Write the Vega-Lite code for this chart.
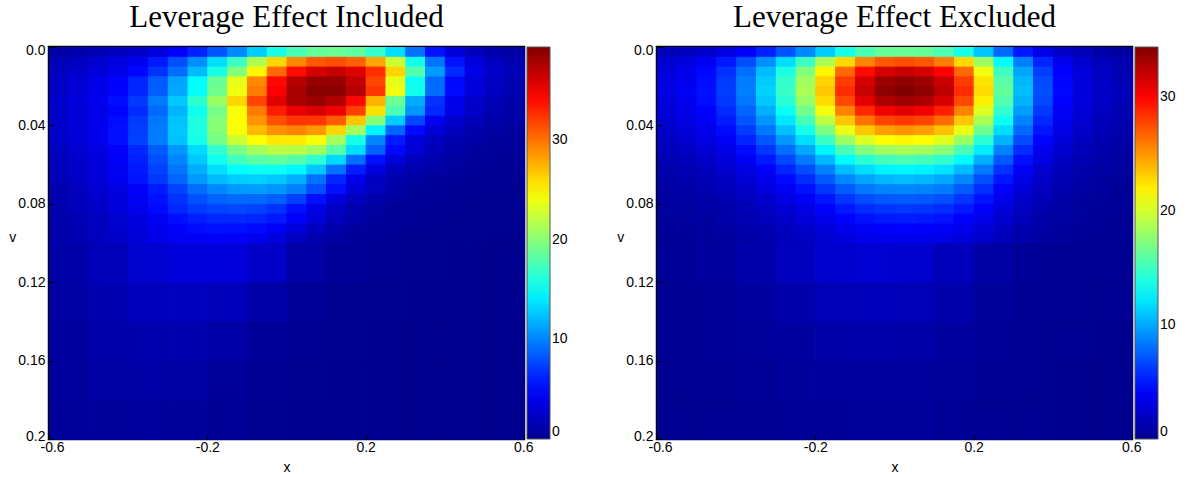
{
"$schema":"https://vega.github.io/schema/vega-lite/v6.json",
"background":"white",
"padding":{"left":7,"top":0,"right":5,"bottom":5},
"spacing":45,
"config":{
 "font":"Liberation Sans",
 "view":{"stroke":"black","strokeWidth":2.5},
 "axis":{"labelFont":"Liberation Sans","labelFontSize":14,"labelColor":"black","titleFont":"Liberation Sans","titleFontSize":14,"titleFontWeight":"normal","titleColor":"black","grid":false,"domain":false,"tickColor":"black","tickSize":-5,"tickWidth":1},
 "legend":{"gradientStrokeColor":"#555","gradientStrokeWidth":1,"labelFont":"Liberation Sans","labelFontSize":14,"labelColor":"black","padding":0,"labelBaseline":"middle","labelOffset":5,"offset":3,"gradientLength":392,"gradientThickness":23},
 "title":{"font":"Liberation Serif","fontSize":31,"fontWeight":"normal","color":"black","offset":9,"anchor":"middle","frame":"group"}
},
"resolve":{"scale":{"color":"independent","stroke":"independent"},"legend":{"color":"independent","stroke":"independent"}},
"datasets":{
"i1":[
{"x":-0.6,"v":0,"z":1.0},{"x":-0.55,"v":0,"z":1.3},{"x":-0.5,"v":0,"z":1.7},{"x":-0.45,"v":0,"z":2.1},{"x":-0.4,"v":0,"z":2.6},{"x":-0.35,"v":0,"z":3.5},{"x":-0.3,"v":0,"z":4.7},{"x":-0.25,"v":0,"z":6.2},{"x":-0.2,"v":0,"z":8.1},{"x":-0.15,"v":0,"z":10.2},{"x":-0.1,"v":0,"z":12.8},{"x":-0.05,"v":0,"z":15.7},{"x":0,"v":0,"z":17.5},{"x":0.05,"v":0,"z":18.6},{"x":0.1,"v":0,"z":18.9},{"x":0.15,"v":0,"z":18.4},{"x":0.2,"v":0,"z":16.8},{"x":0.25,"v":0,"z":13.5},{"x":0.3,"v":0,"z":9.3},{"x":0.35,"v":0,"z":5.6},{"x":0.4,"v":0,"z":3.4},{"x":0.45,"v":0,"z":2.0},{"x":0.5,"v":0,"z":1.3},{"x":0.55,"v":0,"z":0.9},
{"x":-0.6,"v":0.005,"z":1.7},{"x":-0.55,"v":0.005,"z":2.2},{"x":-0.5,"v":0.005,"z":2.8},{"x":-0.45,"v":0.005,"z":3.5},{"x":-0.4,"v":0.005,"z":4.4},{"x":-0.35,"v":0.005,"z":5.8},{"x":-0.3,"v":0.005,"z":7.9},{"x":-0.25,"v":0.005,"z":10.4},{"x":-0.2,"v":0.005,"z":13.5},{"x":-0.15,"v":0.005,"z":17.0},{"x":-0.1,"v":0.005,"z":21.4},{"x":-0.05,"v":0.005,"z":26.1},{"x":0,"v":0.005,"z":29.2},{"x":0.05,"v":0.005,"z":31.0},{"x":0.1,"v":0.005,"z":31.4},{"x":0.15,"v":0.005,"z":30.7},{"x":0.2,"v":0.005,"z":28.0},{"x":0.25,"v":0.005,"z":22.6},{"x":0.3,"v":0.005,"z":15.5},{"x":0.35,"v":0.005,"z":9.4},{"x":0.4,"v":0.005,"z":5.6},{"x":0.45,"v":0.005,"z":3.4},{"x":0.5,"v":0.005,"z":2.1},{"x":0.55,"v":0.005,"z":1.4},
{"x":-0.6,"v":0.01,"z":2.0},{"x":-0.55,"v":0.01,"z":2.6},{"x":-0.5,"v":0.01,"z":3.3},{"x":-0.45,"v":0.01,"z":4.0},{"x":-0.4,"v":0.01,"z":5.1},{"x":-0.35,"v":0.01,"z":6.8},{"x":-0.3,"v":0.01,"z":9.1},{"x":-0.25,"v":0.01,"z":12.1},{"x":-0.2,"v":0.01,"z":15.7},{"x":-0.15,"v":0.01,"z":19.7},{"x":-0.1,"v":0.01,"z":24.9},{"x":-0.05,"v":0.01,"z":30.3},{"x":0,"v":0.01,"z":34.0},{"x":0.05,"v":0.01,"z":36.0},{"x":0.1,"v":0.01,"z":36.6},{"x":0.15,"v":0.01,"z":35.6},{"x":0.2,"v":0.01,"z":32.6},{"x":0.25,"v":0.01,"z":26.2},{"x":0.3,"v":0.01,"z":18.0},{"x":0.35,"v":0.01,"z":10.9},{"x":0.4,"v":0.01,"z":6.5},{"x":0.45,"v":0.01,"z":3.9},{"x":0.5,"v":0.01,"z":2.5},{"x":0.55,"v":0.01,"z":1.7},
{"x":-0.6,"v":0.015,"z":2.4},{"x":-0.55,"v":0.015,"z":3.1},{"x":-0.5,"v":0.015,"z":3.9},{"x":-0.45,"v":0.015,"z":4.8},{"x":-0.4,"v":0.015,"z":6.3},{"x":-0.35,"v":0.015,"z":8.4},{"x":-0.3,"v":0.015,"z":11.2},{"x":-0.25,"v":0.015,"z":14.7},{"x":-0.2,"v":0.015,"z":18.8},{"x":-0.15,"v":0.015,"z":23.6},{"x":-0.1,"v":0.015,"z":29.2},{"x":-0.05,"v":0.015,"z":34.1},{"x":0,"v":0.015,"z":37.2},{"x":0.05,"v":0.015,"z":38.4},{"x":0.1,"v":0.015,"z":38.4},{"x":0.15,"v":0.015,"z":36.7},{"x":0.2,"v":0.015,"z":31.8},{"x":0.25,"v":0.015,"z":23.6},{"x":0.3,"v":0.015,"z":15.2},{"x":0.35,"v":0.015,"z":9.0},{"x":0.4,"v":0.015,"z":5.2},{"x":0.45,"v":0.015,"z":3.3},{"x":0.5,"v":0.015,"z":2.2},{"x":0.55,"v":0.015,"z":1.5},
{"x":-0.6,"v":0.02,"z":2.4},{"x":-0.55,"v":0.02,"z":3.1},{"x":-0.5,"v":0.02,"z":3.9},{"x":-0.45,"v":0.02,"z":4.9},{"x":-0.4,"v":0.02,"z":6.4},{"x":-0.35,"v":0.02,"z":8.5},{"x":-0.3,"v":0.02,"z":11.4},{"x":-0.25,"v":0.02,"z":14.9},{"x":-0.2,"v":0.02,"z":19.1},{"x":-0.15,"v":0.02,"z":24.0},{"x":-0.1,"v":0.02,"z":29.7},{"x":-0.05,"v":0.02,"z":34.6},{"x":0,"v":0.02,"z":37.7},{"x":0.05,"v":0.02,"z":39.0},{"x":0.1,"v":0.02,"z":38.9},{"x":0.15,"v":0.02,"z":37.3},{"x":0.2,"v":0.02,"z":32.3},{"x":0.25,"v":0.02,"z":23.9},{"x":0.3,"v":0.02,"z":15.4},{"x":0.35,"v":0.02,"z":9.1},{"x":0.4,"v":0.02,"z":5.3},{"x":0.45,"v":0.02,"z":3.3},{"x":0.5,"v":0.02,"z":2.2},{"x":0.55,"v":0.02,"z":1.5},
{"x":-0.6,"v":0.025,"z":2.7},{"x":-0.55,"v":0.025,"z":3.4},{"x":-0.5,"v":0.025,"z":4.2},{"x":-0.45,"v":0.025,"z":5.4},{"x":-0.4,"v":0.025,"z":7.1},{"x":-0.35,"v":0.025,"z":9.6},{"x":-0.3,"v":0.025,"z":12.6},{"x":-0.25,"v":0.025,"z":16.5},{"x":-0.2,"v":0.025,"z":20.7},{"x":-0.15,"v":0.025,"z":26.1},{"x":-0.1,"v":0.025,"z":31.8},{"x":-0.05,"v":0.025,"z":35.6},{"x":0,"v":0.025,"z":37.7},{"x":0.05,"v":0.025,"z":38.3},{"x":0.1,"v":0.025,"z":37.4},{"x":0.15,"v":0.025,"z":34.2},{"x":0.2,"v":0.025,"z":27.5},{"x":0.25,"v":0.025,"z":18.9},{"x":0.3,"v":0.025,"z":11.5},{"x":0.35,"v":0.025,"z":6.8},{"x":0.4,"v":0.025,"z":4.1},{"x":0.45,"v":0.025,"z":2.6},{"x":0.5,"v":0.025,"z":1.8},{"x":0.55,"v":0.025,"z":1.2},
{"x":-0.6,"v":0.03,"z":2.5},{"x":-0.55,"v":0.03,"z":3.2},{"x":-0.5,"v":0.03,"z":3.9},{"x":-0.45,"v":0.03,"z":5.0},{"x":-0.4,"v":0.03,"z":6.6},{"x":-0.35,"v":0.03,"z":8.9},{"x":-0.3,"v":0.03,"z":11.8},{"x":-0.25,"v":0.03,"z":15.4},{"x":-0.2,"v":0.03,"z":19.3},{"x":-0.15,"v":0.03,"z":24.3},{"x":-0.1,"v":0.03,"z":29.7},{"x":-0.05,"v":0.03,"z":33.3},{"x":0,"v":0.03,"z":35.2},{"x":0.05,"v":0.03,"z":35.8},{"x":0.1,"v":0.03,"z":34.9},{"x":0.15,"v":0.03,"z":31.9},{"x":0.2,"v":0.03,"z":25.7},{"x":0.25,"v":0.03,"z":17.6},{"x":0.3,"v":0.03,"z":10.7},{"x":0.35,"v":0.03,"z":6.4},{"x":0.4,"v":0.03,"z":3.8},{"x":0.45,"v":0.03,"z":2.4},{"x":0.5,"v":0.03,"z":1.6},{"x":0.55,"v":0.03,"z":1.1},
{"x":-0.6,"v":0.035,"z":2.6},{"x":-0.55,"v":0.035,"z":3.3},{"x":-0.5,"v":0.035,"z":4.1},{"x":-0.45,"v":0.035,"z":5.3},{"x":-0.4,"v":0.035,"z":7.1},{"x":-0.35,"v":0.035,"z":9.5},{"x":-0.3,"v":0.035,"z":12.4},{"x":-0.25,"v":0.035,"z":15.8},{"x":-0.2,"v":0.035,"z":19.9},{"x":-0.15,"v":0.035,"z":24.6},{"x":-0.1,"v":0.035,"z":28.7},{"x":-0.05,"v":0.035,"z":31.3},{"x":0,"v":0.035,"z":32.4},{"x":0.05,"v":0.035,"z":32.3},{"x":0.1,"v":0.035,"z":30.9},{"x":0.15,"v":0.035,"z":26.8},{"x":0.2,"v":0.035,"z":19.9},{"x":0.25,"v":0.035,"z":12.8},{"x":0.3,"v":0.035,"z":7.6},{"x":0.35,"v":0.035,"z":4.4},{"x":0.4,"v":0.035,"z":2.7},{"x":0.45,"v":0.035,"z":1.8},{"x":0.5,"v":0.035,"z":1.2},{"x":0.55,"v":0.035,"z":0.9},
{"x":-0.6,"v":0.04,"z":2.6},{"x":-0.55,"v":0.04,"z":3.2},{"x":-0.5,"v":0.04,"z":4.1},{"x":-0.45,"v":0.04,"z":5.4},{"x":-0.4,"v":0.04,"z":7.3},{"x":-0.35,"v":0.04,"z":9.7},{"x":-0.3,"v":0.04,"z":12.6},{"x":-0.25,"v":0.04,"z":15.8},{"x":-0.2,"v":0.04,"z":19.9},{"x":-0.15,"v":0.04,"z":24.3},{"x":-0.1,"v":0.04,"z":27.2},{"x":-0.05,"v":0.04,"z":28.8},{"x":0,"v":0.04,"z":29.3},{"x":0.05,"v":0.04,"z":28.5},{"x":0.1,"v":0.04,"z":26.1},{"x":0.15,"v":0.04,"z":21.0},{"x":0.2,"v":0.04,"z":14.4},{"x":0.25,"v":0.04,"z":8.8},{"x":0.3,"v":0.04,"z":5.2},{"x":0.35,"v":0.04,"z":3.1},{"x":0.4,"v":0.04,"z":2.0},{"x":0.45,"v":0.04,"z":1.3},{"x":0.5,"v":0.04,"z":0.9},{"x":0.55,"v":0.04,"z":0.7},
{"x":-0.6,"v":0.045,"z":2.6},{"x":-0.55,"v":0.045,"z":3.2},{"x":-0.5,"v":0.045,"z":4.1},{"x":-0.45,"v":0.045,"z":5.5},{"x":-0.4,"v":0.045,"z":7.4},{"x":-0.35,"v":0.045,"z":9.7},{"x":-0.3,"v":0.045,"z":12.4},{"x":-0.25,"v":0.045,"z":15.6},{"x":-0.2,"v":0.045,"z":19.3},{"x":-0.15,"v":0.045,"z":22.5},{"x":-0.1,"v":0.045,"z":24.5},{"x":-0.05,"v":0.045,"z":25.4},{"x":0,"v":0.045,"z":25.3},{"x":0.05,"v":0.045,"z":24.2},{"x":0.1,"v":0.045,"z":21.0},{"x":0.15,"v":0.045,"z":15.6},{"x":0.2,"v":0.045,"z":10.0},{"x":0.25,"v":0.045,"z":5.9},{"x":0.3,"v":0.045,"z":3.4},{"x":0.35,"v":0.045,"z":2.1},{"x":0.4,"v":0.045,"z":1.4},{"x":0.45,"v":0.045,"z":1.0},{"x":0.5,"v":0.045,"z":0.7},{"x":0.55,"v":0.045,"z":0.5},
{"x":-0.6,"v":0.05,"z":2.2},{"x":-0.55,"v":0.05,"z":2.8},{"x":-0.5,"v":0.05,"z":3.6},{"x":-0.45,"v":0.05,"z":4.8},{"x":-0.4,"v":0.05,"z":6.4},{"x":-0.35,"v":0.05,"z":8.4},{"x":-0.3,"v":0.05,"z":10.7},{"x":-0.25,"v":0.05,"z":13.4},{"x":-0.2,"v":0.05,"z":16.6},{"x":-0.15,"v":0.05,"z":19.4},{"x":-0.1,"v":0.05,"z":21.1},{"x":-0.05,"v":0.05,"z":21.9},{"x":0,"v":0.05,"z":21.8},{"x":0.05,"v":0.05,"z":20.9},{"x":0.1,"v":0.05,"z":18.1},{"x":0.15,"v":0.05,"z":13.4},{"x":0.2,"v":0.05,"z":8.6},{"x":0.25,"v":0.05,"z":5.1},{"x":0.3,"v":0.05,"z":3.0},{"x":0.35,"v":0.05,"z":1.8},{"x":0.4,"v":0.05,"z":1.2},{"x":0.45,"v":0.05,"z":0.8},{"x":0.5,"v":0.05,"z":0.6},{"x":0.55,"v":0.05,"z":0.4},
{"x":-0.6,"v":0.055,"z":2.0},{"x":-0.55,"v":0.055,"z":2.6},{"x":-0.5,"v":0.055,"z":3.4},{"x":-0.45,"v":0.055,"z":4.6},{"x":-0.4,"v":0.055,"z":6.1},{"x":-0.35,"v":0.055,"z":7.9},{"x":-0.3,"v":0.055,"z":10.0},{"x":-0.25,"v":0.055,"z":12.6},{"x":-0.2,"v":0.055,"z":15.3},{"x":-0.15,"v":0.055,"z":17.2},{"x":-0.1,"v":0.055,"z":18.2},{"x":-0.05,"v":0.055,"z":18.5},{"x":0,"v":0.055,"z":18.0},{"x":0.05,"v":0.055,"z":16.5},{"x":0.1,"v":0.055,"z":13.3},{"x":0.15,"v":0.055,"z":9.1},{"x":0.2,"v":0.055,"z":5.5},{"x":0.25,"v":0.055,"z":3.3},{"x":0.3,"v":0.055,"z":2.0},{"x":0.35,"v":0.055,"z":1.3},{"x":0.4,"v":0.055,"z":0.8},{"x":0.45,"v":0.055,"z":0.6},{"x":0.5,"v":0.055,"z":0.4},{"x":0.55,"v":0.055,"z":0.3},
{"x":-0.6,"v":0.06,"z":1.9},{"x":-0.55,"v":0.06,"z":2.5},{"x":-0.5,"v":0.06,"z":3.3},{"x":-0.45,"v":0.06,"z":4.4},{"x":-0.4,"v":0.06,"z":5.8},{"x":-0.35,"v":0.06,"z":7.4},{"x":-0.3,"v":0.06,"z":9.4},{"x":-0.25,"v":0.06,"z":11.6},{"x":-0.2,"v":0.06,"z":13.5},{"x":-0.15,"v":0.06,"z":14.7},{"x":-0.1,"v":0.06,"z":15.2},{"x":-0.05,"v":0.06,"z":15.2},{"x":0,"v":0.06,"z":14.5},{"x":0.05,"v":0.06,"z":12.6},{"x":0.1,"v":0.06,"z":9.3},{"x":0.15,"v":0.06,"z":6.0},{"x":0.2,"v":0.06,"z":3.6},{"x":0.25,"v":0.06,"z":2.1},{"x":0.3,"v":0.06,"z":1.3},{"x":0.35,"v":0.06,"z":0.9},{"x":0.4,"v":0.06,"z":0.6},{"x":0.45,"v":0.06,"z":0.4},{"x":0.5,"v":0.06,"z":0.3},{"x":0.55,"v":0.06,"z":0.2},
{"x":-0.6,"v":0.065,"z":1.8},{"x":-0.55,"v":0.065,"z":2.4},{"x":-0.5,"v":0.065,"z":3.2},{"x":-0.45,"v":0.065,"z":4.3},{"x":-0.4,"v":0.065,"z":5.6},{"x":-0.35,"v":0.065,"z":7.0},{"x":-0.3,"v":0.065,"z":8.8},{"x":-0.25,"v":0.065,"z":10.8},{"x":-0.2,"v":0.065,"z":12.1},{"x":-0.15,"v":0.065,"z":12.8},{"x":-0.1,"v":0.065,"z":13.0},{"x":-0.05,"v":0.065,"z":12.6},{"x":0,"v":0.065,"z":11.6},{"x":0.05,"v":0.065,"z":9.3},{"x":0.1,"v":0.065,"z":6.4},{"x":0.15,"v":0.065,"z":3.9},{"x":0.2,"v":0.065,"z":2.3},{"x":0.25,"v":0.065,"z":1.4},{"x":0.3,"v":0.065,"z":0.9},{"x":0.35,"v":0.065,"z":0.6},{"x":0.4,"v":0.065,"z":0.4},{"x":0.45,"v":0.065,"z":0.3},{"x":0.5,"v":0.065,"z":0.2},{"x":0.55,"v":0.065,"z":0.2},
{"x":-0.6,"v":0.07,"z":1.5},{"x":-0.55,"v":0.07,"z":2.0},{"x":-0.5,"v":0.07,"z":2.8},{"x":-0.45,"v":0.07,"z":3.6},{"x":-0.4,"v":0.07,"z":4.7},{"x":-0.35,"v":0.07,"z":5.9},{"x":-0.3,"v":0.07,"z":7.5},{"x":-0.25,"v":0.07,"z":9.1},{"x":-0.2,"v":0.07,"z":10.2},{"x":-0.15,"v":0.07,"z":10.8},{"x":-0.1,"v":0.07,"z":11.0},{"x":-0.05,"v":0.07,"z":10.7},{"x":0,"v":0.07,"z":9.8},{"x":0.05,"v":0.07,"z":7.9},{"x":0.1,"v":0.07,"z":5.4},{"x":0.15,"v":0.07,"z":3.3},{"x":0.2,"v":0.07,"z":2.0},{"x":0.25,"v":0.07,"z":1.2},{"x":0.3,"v":0.07,"z":0.7},{"x":0.35,"v":0.07,"z":0.5},{"x":0.4,"v":0.07,"z":0.3},{"x":0.45,"v":0.07,"z":0.2},{"x":0.5,"v":0.07,"z":0.2},{"x":0.55,"v":0.07,"z":0.1},
{"x":-0.6,"v":0.075,"z":1.5},{"x":-0.55,"v":0.075,"z":2.0},{"x":-0.5,"v":0.075,"z":2.6},{"x":-0.45,"v":0.075,"z":3.4},{"x":-0.4,"v":0.075,"z":4.4},{"x":-0.35,"v":0.075,"z":5.5},{"x":-0.3,"v":0.075,"z":6.8},{"x":-0.25,"v":0.075,"z":8.0},{"x":-0.2,"v":0.075,"z":8.7},{"x":-0.15,"v":0.075,"z":9.0},{"x":-0.1,"v":0.075,"z":9.0},{"x":-0.05,"v":0.075,"z":8.6},{"x":0,"v":0.075,"z":7.4},{"x":0.05,"v":0.075,"z":5.5},{"x":0.1,"v":0.075,"z":3.5},{"x":0.15,"v":0.075,"z":2.1},{"x":0.2,"v":0.075,"z":1.2},{"x":0.25,"v":0.075,"z":0.8},{"x":0.3,"v":0.075,"z":0.5},{"x":0.35,"v":0.075,"z":0.3},{"x":0.4,"v":0.075,"z":0.2},{"x":0.45,"v":0.075,"z":0.2},{"x":0.5,"v":0.075,"z":0.1},{"x":0.55,"v":0.075,"z":0.1},
{"x":-0.6,"v":0.08,"z":1.4},{"x":-0.55,"v":0.08,"z":1.9},{"x":-0.5,"v":0.08,"z":2.5},{"x":-0.45,"v":0.08,"z":3.3},{"x":-0.4,"v":0.08,"z":4.1},{"x":-0.35,"v":0.08,"z":5.2},{"x":-0.3,"v":0.08,"z":6.4},{"x":-0.25,"v":0.08,"z":7.1},{"x":-0.2,"v":0.08,"z":7.5},{"x":-0.15,"v":0.08,"z":7.7},{"x":-0.1,"v":0.08,"z":7.5},{"x":-0.05,"v":0.08,"z":6.8},{"x":0,"v":0.08,"z":5.5},{"x":0.05,"v":0.08,"z":3.8},{"x":0.1,"v":0.08,"z":2.3},{"x":0.15,"v":0.08,"z":1.4},{"x":0.2,"v":0.08,"z":0.8},{"x":0.25,"v":0.08,"z":0.5},{"x":0.3,"v":0.08,"z":0.4},{"x":0.35,"v":0.08,"z":0.2},{"x":0.4,"v":0.08,"z":0.2},{"x":0.45,"v":0.08,"z":0.1},{"x":0.5,"v":0.08,"z":0.1},{"x":0.55,"v":0.08,"z":0.1},
{"x":-0.6,"v":0.085,"z":1.2},{"x":-0.55,"v":0.085,"z":1.6},{"x":-0.5,"v":0.085,"z":2.1},{"x":-0.45,"v":0.085,"z":2.8},{"x":-0.4,"v":0.085,"z":3.5},{"x":-0.35,"v":0.085,"z":4.4},{"x":-0.3,"v":0.085,"z":5.4},{"x":-0.25,"v":0.085,"z":6.0},{"x":-0.2,"v":0.085,"z":6.4},{"x":-0.15,"v":0.085,"z":6.5},{"x":-0.1,"v":0.085,"z":6.3},{"x":-0.05,"v":0.085,"z":5.8},{"x":0,"v":0.085,"z":4.7},{"x":0.05,"v":0.085,"z":3.2},{"x":0.1,"v":0.085,"z":1.9},{"x":0.15,"v":0.085,"z":1.2},{"x":0.2,"v":0.085,"z":0.7},{"x":0.25,"v":0.085,"z":0.4},{"x":0.3,"v":0.085,"z":0.3},{"x":0.35,"v":0.085,"z":0.2},{"x":0.4,"v":0.085,"z":0.1},{"x":0.45,"v":0.085,"z":0.1},{"x":0.5,"v":0.085,"z":0.1},{"x":0.55,"v":0.085,"z":0.1},
{"x":-0.6,"v":0.09,"z":1.2},{"x":-0.55,"v":0.09,"z":1.6},{"x":-0.5,"v":0.09,"z":2.1},{"x":-0.45,"v":0.09,"z":2.7},{"x":-0.4,"v":0.09,"z":3.4},{"x":-0.35,"v":0.09,"z":4.2},{"x":-0.3,"v":0.09,"z":4.8},{"x":-0.25,"v":0.09,"z":5.3},{"x":-0.2,"v":0.09,"z":5.5},{"x":-0.15,"v":0.09,"z":5.5},{"x":-0.1,"v":0.09,"z":5.2},{"x":-0.05,"v":0.09,"z":4.5},{"x":0,"v":0.09,"z":3.3},{"x":0.05,"v":0.09,"z":2.2},{"x":0.1,"v":0.09,"z":1.3},{"x":0.15,"v":0.09,"z":0.7},{"x":0.2,"v":0.09,"z":0.5},{"x":0.25,"v":0.09,"z":0.3},{"x":0.3,"v":0.09,"z":0.2},{"x":0.35,"v":0.09,"z":0.1},{"x":0.4,"v":0.09,"z":0.1},{"x":0.45,"v":0.09,"z":0.1},{"x":0.5,"v":0.09,"z":0.1},{"x":0.55,"v":0.09,"z":0.1},
{"x":-0.6,"v":0.095,"z":1.2},{"x":-0.55,"v":0.095,"z":1.6},{"x":-0.5,"v":0.095,"z":2.0},{"x":-0.45,"v":0.095,"z":2.5},{"x":-0.4,"v":0.095,"z":3.2},{"x":-0.35,"v":0.095,"z":3.9},{"x":-0.3,"v":0.095,"z":4.4},{"x":-0.25,"v":0.095,"z":4.6},{"x":-0.2,"v":0.095,"z":4.7},{"x":-0.15,"v":0.095,"z":4.6},{"x":-0.1,"v":0.095,"z":4.2},{"x":-0.05,"v":0.095,"z":3.4},{"x":0,"v":0.095,"z":2.3},{"x":0.05,"v":0.095,"z":1.4},{"x":0.1,"v":0.095,"z":0.8},{"x":0.15,"v":0.095,"z":0.5},{"x":0.2,"v":0.095,"z":0.3},{"x":0.25,"v":0.095,"z":0.2},{"x":0.3,"v":0.095,"z":0.1},{"x":0.35,"v":0.095,"z":0.1},{"x":0.4,"v":0.095,"z":0.1},{"x":0.45,"v":0.095,"z":0.1},{"x":0.5,"v":0.095,"z":0.0},{"x":0.55,"v":0.095,"z":0.0}
],
"i2":[
{"x":-0.6,"v":0.1,"z":1.1},{"x":-0.5,"v":0.1,"z":1.8},{"x":-0.4,"v":0.1,"z":2.8},{"x":-0.3,"v":0.1,"z":3.3},{"x":-0.2,"v":0.1,"z":3.3},{"x":-0.1,"v":0.1,"z":2.4},{"x":0,"v":0.1,"z":1.0},{"x":0.1,"v":0.1,"z":0.4},{"x":0.2,"v":0.1,"z":0.2},{"x":0.3,"v":0.1,"z":0.1},{"x":0.4,"v":0.1,"z":0.0},{"x":0.5,"v":0.1,"z":0.0},
{"x":-0.6,"v":0.12,"z":0.9},{"x":-0.5,"v":0.12,"z":1.5},{"x":-0.4,"v":0.12,"z":2.0},{"x":-0.3,"v":0.12,"z":2.2},{"x":-0.2,"v":0.12,"z":1.9},{"x":-0.1,"v":0.12,"z":1.1},{"x":0,"v":0.12,"z":0.4},{"x":0.1,"v":0.12,"z":0.1},{"x":0.2,"v":0.12,"z":0.1},{"x":0.3,"v":0.12,"z":0.0},{"x":0.4,"v":0.12,"z":0.0},{"x":0.5,"v":0.12,"z":0.0},
{"x":-0.6,"v":0.14,"z":0.8},{"x":-0.5,"v":0.14,"z":1.2},{"x":-0.4,"v":0.14,"z":1.4},{"x":-0.3,"v":0.14,"z":1.4},{"x":-0.2,"v":0.14,"z":1.0},{"x":-0.1,"v":0.14,"z":0.4},{"x":0,"v":0.14,"z":0.2},{"x":0.1,"v":0.14,"z":0.1},{"x":0.2,"v":0.14,"z":0.0},{"x":0.3,"v":0.14,"z":0.0},{"x":0.4,"v":0.14,"z":0.0},{"x":0.5,"v":0.14,"z":0.0},
{"x":-0.6,"v":0.16,"z":0.7},{"x":-0.5,"v":0.16,"z":0.9},{"x":-0.4,"v":0.16,"z":1.0},{"x":-0.3,"v":0.16,"z":0.9},{"x":-0.2,"v":0.16,"z":0.5},{"x":-0.1,"v":0.16,"z":0.2},{"x":0,"v":0.16,"z":0.1},{"x":0.1,"v":0.16,"z":0.0},{"x":0.2,"v":0.16,"z":0.0},{"x":0.3,"v":0.16,"z":0.0},{"x":0.4,"v":0.16,"z":0.0},{"x":0.5,"v":0.16,"z":0.0},
{"x":-0.6,"v":0.18,"z":0.5},{"x":-0.5,"v":0.18,"z":0.6},{"x":-0.4,"v":0.18,"z":0.7},{"x":-0.3,"v":0.18,"z":0.6},{"x":-0.2,"v":0.18,"z":0.3},{"x":-0.1,"v":0.18,"z":0.1},{"x":0,"v":0.18,"z":0.0},{"x":0.1,"v":0.18,"z":0.0},{"x":0.2,"v":0.18,"z":0.0},{"x":0.3,"v":0.18,"z":0.0},{"x":0.4,"v":0.18,"z":0.0},{"x":0.5,"v":0.18,"z":0.0}
],
"e1":[
{"x":-0.6,"v":0,"z":1.5},{"x":-0.55,"v":0,"z":1.8},{"x":-0.5,"v":0,"z":2.3},{"x":-0.45,"v":0,"z":3.1},{"x":-0.4,"v":0,"z":4.1},{"x":-0.35,"v":0,"z":5.4},{"x":-0.3,"v":0,"z":7.1},{"x":-0.25,"v":0,"z":8.9},{"x":-0.2,"v":0,"z":11.2},{"x":-0.15,"v":0,"z":13.7},{"x":-0.1,"v":0,"z":15.4},{"x":-0.05,"v":0,"z":16.3},{"x":0,"v":0,"z":16.5},{"x":0.05,"v":0,"z":16.3},{"x":0.1,"v":0,"z":15.5},{"x":0.15,"v":0,"z":13.7},{"x":0.2,"v":0,"z":10.9},{"x":0.25,"v":0,"z":7.8},{"x":0.3,"v":0,"z":5.1},{"x":0.35,"v":0,"z":3.3},{"x":0.4,"v":0,"z":2.1},{"x":0.45,"v":0,"z":1.5},{"x":0.5,"v":0,"z":1.0},{"x":0.55,"v":0,"z":0.7},
{"x":-0.6,"v":0.005,"z":2.5},{"x":-0.55,"v":0.005,"z":3.0},{"x":-0.5,"v":0.005,"z":3.9},{"x":-0.45,"v":0.005,"z":5.1},{"x":-0.4,"v":0.005,"z":6.9},{"x":-0.35,"v":0.005,"z":9.1},{"x":-0.3,"v":0.005,"z":11.8},{"x":-0.25,"v":0.005,"z":14.9},{"x":-0.2,"v":0.005,"z":18.7},{"x":-0.15,"v":0.005,"z":22.8},{"x":-0.1,"v":0.005,"z":25.6},{"x":-0.05,"v":0.005,"z":27.1},{"x":0,"v":0.005,"z":27.5},{"x":0.05,"v":0.005,"z":27.1},{"x":0.1,"v":0.005,"z":25.9},{"x":0.15,"v":0.005,"z":22.8},{"x":0.2,"v":0.005,"z":18.2},{"x":0.25,"v":0.005,"z":12.9},{"x":0.3,"v":0.005,"z":8.5},{"x":0.35,"v":0.005,"z":5.5},{"x":0.4,"v":0.005,"z":3.6},{"x":0.45,"v":0.005,"z":2.4},{"x":0.5,"v":0.005,"z":1.7},{"x":0.55,"v":0.005,"z":1.2},
{"x":-0.6,"v":0.01,"z":2.9},{"x":-0.55,"v":0.01,"z":3.5},{"x":-0.5,"v":0.01,"z":4.5},{"x":-0.45,"v":0.01,"z":5.9},{"x":-0.4,"v":0.01,"z":8.0},{"x":-0.35,"v":0.01,"z":10.6},{"x":-0.3,"v":0.01,"z":13.8},{"x":-0.25,"v":0.01,"z":17.3},{"x":-0.2,"v":0.01,"z":21.8},{"x":-0.15,"v":0.01,"z":26.6},{"x":-0.1,"v":0.01,"z":29.8},{"x":-0.05,"v":0.01,"z":31.5},{"x":0,"v":0.01,"z":32.0},{"x":0.05,"v":0.01,"z":31.5},{"x":0.1,"v":0.01,"z":30.1},{"x":0.15,"v":0.01,"z":26.6},{"x":0.2,"v":0.01,"z":21.1},{"x":0.25,"v":0.01,"z":15.0},{"x":0.3,"v":0.01,"z":9.9},{"x":0.35,"v":0.01,"z":6.4},{"x":0.4,"v":0.01,"z":4.2},{"x":0.45,"v":0.01,"z":2.8},{"x":0.5,"v":0.01,"z":2.0},{"x":0.55,"v":0.01,"z":1.4},
{"x":-0.6,"v":0.015,"z":3.1},{"x":-0.55,"v":0.015,"z":3.7},{"x":-0.5,"v":0.015,"z":4.7},{"x":-0.45,"v":0.015,"z":6.3},{"x":-0.4,"v":0.015,"z":8.5},{"x":-0.35,"v":0.015,"z":11.2},{"x":-0.3,"v":0.015,"z":14.6},{"x":-0.25,"v":0.015,"z":18.3},{"x":-0.2,"v":0.015,"z":23.0},{"x":-0.15,"v":0.015,"z":28.1},{"x":-0.1,"v":0.015,"z":31.5},{"x":-0.05,"v":0.015,"z":33.4},{"x":0,"v":0.015,"z":33.9},{"x":0.05,"v":0.015,"z":33.4},{"x":0.1,"v":0.015,"z":31.9},{"x":0.15,"v":0.015,"z":28.1},{"x":0.2,"v":0.015,"z":22.4},{"x":0.25,"v":0.015,"z":15.9},{"x":0.3,"v":0.015,"z":10.5},{"x":0.35,"v":0.015,"z":6.8},{"x":0.4,"v":0.015,"z":4.4},{"x":0.45,"v":0.015,"z":3.0},{"x":0.5,"v":0.015,"z":2.1},{"x":0.55,"v":0.015,"z":1.5},
{"x":-0.6,"v":0.02,"z":3.1},{"x":-0.55,"v":0.02,"z":3.8},{"x":-0.5,"v":0.02,"z":4.8},{"x":-0.45,"v":0.02,"z":6.4},{"x":-0.4,"v":0.02,"z":8.6},{"x":-0.35,"v":0.02,"z":11.4},{"x":-0.3,"v":0.02,"z":14.8},{"x":-0.25,"v":0.02,"z":18.6},{"x":-0.2,"v":0.02,"z":23.4},{"x":-0.15,"v":0.02,"z":28.6},{"x":-0.1,"v":0.02,"z":32.0},{"x":-0.05,"v":0.02,"z":33.9},{"x":0,"v":0.02,"z":34.4},{"x":0.05,"v":0.02,"z":33.9},{"x":0.1,"v":0.02,"z":32.3},{"x":0.15,"v":0.02,"z":28.6},{"x":0.2,"v":0.02,"z":22.7},{"x":0.25,"v":0.02,"z":16.2},{"x":0.3,"v":0.02,"z":10.7},{"x":0.35,"v":0.02,"z":6.9},{"x":0.4,"v":0.02,"z":4.5},{"x":0.45,"v":0.02,"z":3.0},{"x":0.5,"v":0.02,"z":2.1},{"x":0.55,"v":0.02,"z":1.6},
{"x":-0.6,"v":0.025,"z":3.0},{"x":-0.55,"v":0.025,"z":3.7},{"x":-0.5,"v":0.025,"z":4.7},{"x":-0.45,"v":0.025,"z":6.2},{"x":-0.4,"v":0.025,"z":8.3},{"x":-0.35,"v":0.025,"z":11.0},{"x":-0.3,"v":0.025,"z":14.3},{"x":-0.25,"v":0.025,"z":18.0},{"x":-0.2,"v":0.025,"z":22.7},{"x":-0.15,"v":0.025,"z":27.7},{"x":-0.1,"v":0.025,"z":31.0},{"x":-0.05,"v":0.025,"z":32.9},{"x":0,"v":0.025,"z":33.4},{"x":0.05,"v":0.025,"z":32.9},{"x":0.1,"v":0.025,"z":31.4},{"x":0.15,"v":0.025,"z":27.7},{"x":0.2,"v":0.025,"z":22.0},{"x":0.25,"v":0.025,"z":15.7},{"x":0.3,"v":0.025,"z":10.3},{"x":0.35,"v":0.025,"z":6.7},{"x":0.4,"v":0.025,"z":4.3},{"x":0.45,"v":0.025,"z":2.9},{"x":0.5,"v":0.025,"z":2.1},{"x":0.55,"v":0.025,"z":1.5},
{"x":-0.6,"v":0.03,"z":2.8},{"x":-0.55,"v":0.03,"z":3.4},{"x":-0.5,"v":0.03,"z":4.3},{"x":-0.45,"v":0.03,"z":5.7},{"x":-0.4,"v":0.03,"z":7.7},{"x":-0.35,"v":0.03,"z":10.2},{"x":-0.3,"v":0.03,"z":13.3},{"x":-0.25,"v":0.03,"z":16.7},{"x":-0.2,"v":0.03,"z":21.1},{"x":-0.15,"v":0.03,"z":25.7},{"x":-0.1,"v":0.03,"z":28.8},{"x":-0.05,"v":0.03,"z":30.5},{"x":0,"v":0.03,"z":31.0},{"x":0.05,"v":0.03,"z":30.5},{"x":0.1,"v":0.03,"z":29.1},{"x":0.15,"v":0.03,"z":25.7},{"x":0.2,"v":0.03,"z":20.4},{"x":0.25,"v":0.03,"z":14.6},{"x":0.3,"v":0.03,"z":9.6},{"x":0.35,"v":0.03,"z":6.2},{"x":0.4,"v":0.03,"z":4.0},{"x":0.45,"v":0.03,"z":2.7},{"x":0.5,"v":0.03,"z":1.9},{"x":0.55,"v":0.03,"z":1.4},
{"x":-0.6,"v":0.035,"z":2.5},{"x":-0.55,"v":0.035,"z":3.1},{"x":-0.5,"v":0.035,"z":4.0},{"x":-0.45,"v":0.035,"z":5.2},{"x":-0.4,"v":0.035,"z":7.1},{"x":-0.35,"v":0.035,"z":9.3},{"x":-0.3,"v":0.035,"z":12.1},{"x":-0.25,"v":0.035,"z":15.2},{"x":-0.2,"v":0.035,"z":19.2},{"x":-0.15,"v":0.035,"z":23.4},{"x":-0.1,"v":0.035,"z":26.2},{"x":-0.05,"v":0.035,"z":27.8},{"x":0,"v":0.035,"z":28.2},{"x":0.05,"v":0.035,"z":27.8},{"x":0.1,"v":0.035,"z":26.5},{"x":0.15,"v":0.035,"z":23.4},{"x":0.2,"v":0.035,"z":18.6},{"x":0.25,"v":0.035,"z":13.3},{"x":0.3,"v":0.035,"z":8.7},{"x":0.35,"v":0.035,"z":5.6},{"x":0.4,"v":0.035,"z":3.7},{"x":0.45,"v":0.035,"z":2.5},{"x":0.5,"v":0.035,"z":1.7},{"x":0.55,"v":0.035,"z":1.3},
{"x":-0.6,"v":0.04,"z":2.3},{"x":-0.55,"v":0.04,"z":2.8},{"x":-0.5,"v":0.04,"z":3.5},{"x":-0.45,"v":0.04,"z":4.6},{"x":-0.4,"v":0.04,"z":6.3},{"x":-0.35,"v":0.04,"z":8.3},{"x":-0.3,"v":0.04,"z":10.8},{"x":-0.25,"v":0.04,"z":13.6},{"x":-0.2,"v":0.04,"z":17.1},{"x":-0.15,"v":0.04,"z":20.8},{"x":-0.1,"v":0.04,"z":23.4},{"x":-0.05,"v":0.04,"z":24.7},{"x":0,"v":0.04,"z":25.1},{"x":0.05,"v":0.04,"z":24.7},{"x":0.1,"v":0.04,"z":23.6},{"x":0.15,"v":0.04,"z":20.8},{"x":0.2,"v":0.04,"z":16.6},{"x":0.25,"v":0.04,"z":11.8},{"x":0.3,"v":0.04,"z":7.8},{"x":0.35,"v":0.04,"z":5.0},{"x":0.4,"v":0.04,"z":3.3},{"x":0.45,"v":0.04,"z":2.2},{"x":0.5,"v":0.04,"z":1.6},{"x":0.55,"v":0.04,"z":1.1},
{"x":-0.6,"v":0.045,"z":2.0},{"x":-0.55,"v":0.045,"z":2.4},{"x":-0.5,"v":0.045,"z":3.1},{"x":-0.45,"v":0.045,"z":4.0},{"x":-0.4,"v":0.045,"z":5.5},{"x":-0.35,"v":0.045,"z":7.2},{"x":-0.3,"v":0.045,"z":9.4},{"x":-0.25,"v":0.045,"z":11.8},{"x":-0.2,"v":0.045,"z":14.9},{"x":-0.15,"v":0.045,"z":18.1},{"x":-0.1,"v":0.045,"z":20.3},{"x":-0.05,"v":0.045,"z":21.5},{"x":0,"v":0.045,"z":21.8},{"x":0.05,"v":0.045,"z":21.5},{"x":0.1,"v":0.045,"z":20.5},{"x":0.15,"v":0.045,"z":18.1},{"x":0.2,"v":0.045,"z":14.4},{"x":0.25,"v":0.045,"z":10.3},{"x":0.3,"v":0.045,"z":6.8},{"x":0.35,"v":0.045,"z":4.4},{"x":0.4,"v":0.045,"z":2.8},{"x":0.45,"v":0.045,"z":1.9},{"x":0.5,"v":0.045,"z":1.4},{"x":0.55,"v":0.045,"z":1.0},
{"x":-0.6,"v":0.05,"z":1.7},{"x":-0.55,"v":0.05,"z":2.0},{"x":-0.5,"v":0.05,"z":2.6},{"x":-0.45,"v":0.05,"z":3.4},{"x":-0.4,"v":0.05,"z":4.6},{"x":-0.35,"v":0.05,"z":6.1},{"x":-0.3,"v":0.05,"z":8.0},{"x":-0.25,"v":0.05,"z":10.0},{"x":-0.2,"v":0.05,"z":12.6},{"x":-0.15,"v":0.05,"z":15.4},{"x":-0.1,"v":0.05,"z":17.3},{"x":-0.05,"v":0.05,"z":18.3},{"x":0,"v":0.05,"z":18.6},{"x":0.05,"v":0.05,"z":18.3},{"x":0.1,"v":0.05,"z":17.5},{"x":0.15,"v":0.05,"z":15.4},{"x":0.2,"v":0.05,"z":12.3},{"x":0.25,"v":0.05,"z":8.7},{"x":0.3,"v":0.05,"z":5.8},{"x":0.35,"v":0.05,"z":3.7},{"x":0.4,"v":0.05,"z":2.4},{"x":0.45,"v":0.05,"z":1.6},{"x":0.5,"v":0.05,"z":1.2},{"x":0.55,"v":0.05,"z":0.8},
{"x":-0.6,"v":0.055,"z":1.4},{"x":-0.55,"v":0.055,"z":1.7},{"x":-0.5,"v":0.055,"z":2.2},{"x":-0.45,"v":0.055,"z":2.9},{"x":-0.4,"v":0.055,"z":3.9},{"x":-0.35,"v":0.055,"z":5.1},{"x":-0.3,"v":0.055,"z":6.7},{"x":-0.25,"v":0.055,"z":8.4},{"x":-0.2,"v":0.055,"z":10.5},{"x":-0.15,"v":0.055,"z":12.8},{"x":-0.1,"v":0.055,"z":14.4},{"x":-0.05,"v":0.055,"z":15.2},{"x":0,"v":0.055,"z":15.5},{"x":0.05,"v":0.055,"z":15.2},{"x":0.1,"v":0.055,"z":14.6},{"x":0.15,"v":0.055,"z":12.8},{"x":0.2,"v":0.055,"z":10.2},{"x":0.25,"v":0.055,"z":7.3},{"x":0.3,"v":0.055,"z":4.8},{"x":0.35,"v":0.055,"z":3.1},{"x":0.4,"v":0.055,"z":2.0},{"x":0.45,"v":0.055,"z":1.4},{"x":0.5,"v":0.055,"z":1.0},{"x":0.55,"v":0.055,"z":0.7},
{"x":-0.6,"v":0.06,"z":1.1},{"x":-0.55,"v":0.06,"z":1.4},{"x":-0.5,"v":0.06,"z":1.8},{"x":-0.45,"v":0.06,"z":2.4},{"x":-0.4,"v":0.06,"z":3.2},{"x":-0.35,"v":0.06,"z":4.2},{"x":-0.3,"v":0.06,"z":5.5},{"x":-0.25,"v":0.06,"z":6.9},{"x":-0.2,"v":0.06,"z":8.7},{"x":-0.15,"v":0.06,"z":10.6},{"x":-0.1,"v":0.06,"z":11.8},{"x":-0.05,"v":0.06,"z":12.5},{"x":0,"v":0.06,"z":12.7},{"x":0.05,"v":0.06,"z":12.5},{"x":0.1,"v":0.06,"z":12.0},{"x":0.15,"v":0.06,"z":10.6},{"x":0.2,"v":0.06,"z":8.4},{"x":0.25,"v":0.06,"z":6.0},{"x":0.3,"v":0.06,"z":3.9},{"x":0.35,"v":0.06,"z":2.5},{"x":0.4,"v":0.06,"z":1.7},{"x":0.45,"v":0.06,"z":1.1},{"x":0.5,"v":0.06,"z":0.8},{"x":0.55,"v":0.06,"z":0.6},
{"x":-0.6,"v":0.065,"z":1.0},{"x":-0.55,"v":0.065,"z":1.2},{"x":-0.5,"v":0.065,"z":1.5},{"x":-0.45,"v":0.065,"z":2.0},{"x":-0.4,"v":0.065,"z":2.7},{"x":-0.35,"v":0.065,"z":3.5},{"x":-0.3,"v":0.065,"z":4.6},{"x":-0.25,"v":0.065,"z":5.8},{"x":-0.2,"v":0.065,"z":7.3},{"x":-0.15,"v":0.065,"z":8.9},{"x":-0.1,"v":0.065,"z":9.9},{"x":-0.05,"v":0.065,"z":10.5},{"x":0,"v":0.065,"z":10.7},{"x":0.05,"v":0.065,"z":10.5},{"x":0.1,"v":0.065,"z":10.0},{"x":0.15,"v":0.065,"z":8.9},{"x":0.2,"v":0.065,"z":7.0},{"x":0.25,"v":0.065,"z":5.0},{"x":0.3,"v":0.065,"z":3.3},{"x":0.35,"v":0.065,"z":2.1},{"x":0.4,"v":0.065,"z":1.4},{"x":0.45,"v":0.065,"z":0.9},{"x":0.5,"v":0.065,"z":0.7},{"x":0.55,"v":0.065,"z":0.5},
{"x":-0.6,"v":0.07,"z":0.8},{"x":-0.55,"v":0.07,"z":1.0},{"x":-0.5,"v":0.07,"z":1.3},{"x":-0.45,"v":0.07,"z":1.7},{"x":-0.4,"v":0.07,"z":2.2},{"x":-0.35,"v":0.07,"z":3.0},{"x":-0.3,"v":0.07,"z":3.8},{"x":-0.25,"v":0.07,"z":4.8},{"x":-0.2,"v":0.07,"z":6.1},{"x":-0.15,"v":0.07,"z":7.4},{"x":-0.1,"v":0.07,"z":8.3},{"x":-0.05,"v":0.07,"z":8.8},{"x":0,"v":0.07,"z":8.9},{"x":0.05,"v":0.07,"z":8.8},{"x":0.1,"v":0.07,"z":8.4},{"x":0.15,"v":0.07,"z":7.4},{"x":0.2,"v":0.07,"z":5.9},{"x":0.25,"v":0.07,"z":4.2},{"x":0.3,"v":0.07,"z":2.8},{"x":0.35,"v":0.07,"z":1.8},{"x":0.4,"v":0.07,"z":1.2},{"x":0.45,"v":0.07,"z":0.8},{"x":0.5,"v":0.07,"z":0.6},{"x":0.55,"v":0.07,"z":0.4},
{"x":-0.6,"v":0.075,"z":0.7},{"x":-0.55,"v":0.075,"z":0.8},{"x":-0.5,"v":0.075,"z":1.0},{"x":-0.45,"v":0.075,"z":1.4},{"x":-0.4,"v":0.075,"z":1.8},{"x":-0.35,"v":0.075,"z":2.4},{"x":-0.3,"v":0.075,"z":3.2},{"x":-0.25,"v":0.075,"z":4.0},{"x":-0.2,"v":0.075,"z":5.0},{"x":-0.15,"v":0.075,"z":6.1},{"x":-0.1,"v":0.075,"z":6.9},{"x":-0.05,"v":0.075,"z":7.3},{"x":0,"v":0.075,"z":7.4},{"x":0.05,"v":0.075,"z":7.3},{"x":0.1,"v":0.075,"z":7.0},{"x":0.15,"v":0.075,"z":6.1},{"x":0.2,"v":0.075,"z":4.9},{"x":0.25,"v":0.075,"z":3.5},{"x":0.3,"v":0.075,"z":2.3},{"x":0.35,"v":0.075,"z":1.5},{"x":0.4,"v":0.075,"z":1.0},{"x":0.45,"v":0.075,"z":0.7},{"x":0.5,"v":0.075,"z":0.5},{"x":0.55,"v":0.075,"z":0.3},
{"x":-0.6,"v":0.08,"z":0.6},{"x":-0.55,"v":0.08,"z":0.7},{"x":-0.5,"v":0.08,"z":0.9},{"x":-0.45,"v":0.08,"z":1.1},{"x":-0.4,"v":0.08,"z":1.5},{"x":-0.35,"v":0.08,"z":2.0},{"x":-0.3,"v":0.08,"z":2.7},{"x":-0.25,"v":0.08,"z":3.3},{"x":-0.2,"v":0.08,"z":4.2},{"x":-0.15,"v":0.08,"z":5.1},{"x":-0.1,"v":0.08,"z":5.8},{"x":-0.05,"v":0.08,"z":6.1},{"x":0,"v":0.08,"z":6.2},{"x":0.05,"v":0.08,"z":6.1},{"x":0.1,"v":0.08,"z":5.8},{"x":0.15,"v":0.08,"z":5.1},{"x":0.2,"v":0.08,"z":4.1},{"x":0.25,"v":0.08,"z":2.9},{"x":0.3,"v":0.08,"z":1.9},{"x":0.35,"v":0.08,"z":1.2},{"x":0.4,"v":0.08,"z":0.8},{"x":0.45,"v":0.08,"z":0.5},{"x":0.5,"v":0.08,"z":0.4},{"x":0.55,"v":0.08,"z":0.3},
{"x":-0.6,"v":0.085,"z":0.5},{"x":-0.55,"v":0.085,"z":0.6},{"x":-0.5,"v":0.085,"z":0.7},{"x":-0.45,"v":0.085,"z":1.0},{"x":-0.4,"v":0.085,"z":1.3},{"x":-0.35,"v":0.085,"z":1.7},{"x":-0.3,"v":0.085,"z":2.2},{"x":-0.25,"v":0.085,"z":2.8},{"x":-0.2,"v":0.085,"z":3.5},{"x":-0.15,"v":0.085,"z":4.3},{"x":-0.1,"v":0.085,"z":4.8},{"x":-0.05,"v":0.085,"z":5.1},{"x":0,"v":0.085,"z":5.2},{"x":0.05,"v":0.085,"z":5.1},{"x":0.1,"v":0.085,"z":4.9},{"x":0.15,"v":0.085,"z":4.3},{"x":0.2,"v":0.085,"z":3.4},{"x":0.25,"v":0.085,"z":2.4},{"x":0.3,"v":0.085,"z":1.6},{"x":0.35,"v":0.085,"z":1.0},{"x":0.4,"v":0.085,"z":0.7},{"x":0.45,"v":0.085,"z":0.5},{"x":0.5,"v":0.085,"z":0.3},{"x":0.55,"v":0.085,"z":0.2},
{"x":-0.6,"v":0.09,"z":0.4},{"x":-0.55,"v":0.09,"z":0.5},{"x":-0.5,"v":0.09,"z":0.6},{"x":-0.45,"v":0.09,"z":0.8},{"x":-0.4,"v":0.09,"z":1.1},{"x":-0.35,"v":0.09,"z":1.4},{"x":-0.3,"v":0.09,"z":1.8},{"x":-0.25,"v":0.09,"z":2.3},{"x":-0.2,"v":0.09,"z":2.9},{"x":-0.15,"v":0.09,"z":3.6},{"x":-0.1,"v":0.09,"z":4.0},{"x":-0.05,"v":0.09,"z":4.2},{"x":0,"v":0.09,"z":4.3},{"x":0.05,"v":0.09,"z":4.2},{"x":0.1,"v":0.09,"z":4.0},{"x":0.15,"v":0.09,"z":3.6},{"x":0.2,"v":0.09,"z":2.8},{"x":0.25,"v":0.09,"z":2.0},{"x":0.3,"v":0.09,"z":1.3},{"x":0.35,"v":0.09,"z":0.9},{"x":0.4,"v":0.09,"z":0.6},{"x":0.45,"v":0.09,"z":0.4},{"x":0.5,"v":0.09,"z":0.3},{"x":0.55,"v":0.09,"z":0.2},
{"x":-0.6,"v":0.095,"z":0.3},{"x":-0.55,"v":0.095,"z":0.4},{"x":-0.5,"v":0.095,"z":0.5},{"x":-0.45,"v":0.095,"z":0.7},{"x":-0.4,"v":0.095,"z":0.9},{"x":-0.35,"v":0.095,"z":1.2},{"x":-0.3,"v":0.095,"z":1.6},{"x":-0.25,"v":0.095,"z":2.0},{"x":-0.2,"v":0.095,"z":2.5},{"x":-0.15,"v":0.095,"z":3.0},{"x":-0.1,"v":0.095,"z":3.4},{"x":-0.05,"v":0.095,"z":3.6},{"x":0,"v":0.095,"z":3.6},{"x":0.05,"v":0.095,"z":3.6},{"x":0.1,"v":0.095,"z":3.4},{"x":0.15,"v":0.095,"z":3.0},{"x":0.2,"v":0.095,"z":2.4},{"x":0.25,"v":0.095,"z":1.7},{"x":0.3,"v":0.095,"z":1.1},{"x":0.35,"v":0.095,"z":0.7},{"x":0.4,"v":0.095,"z":0.5},{"x":0.45,"v":0.095,"z":0.3},{"x":0.5,"v":0.095,"z":0.2},{"x":0.55,"v":0.095,"z":0.2}
],
"e2":[
{"x":-0.6,"v":0.1,"z":0.4},{"x":-0.5,"v":0.1,"z":0.6},{"x":-0.4,"v":0.1,"z":1.1},{"x":-0.3,"v":0.1,"z":1.8},{"x":-0.2,"v":0.1,"z":2.4},{"x":-0.1,"v":0.1,"z":2.6},{"x":0,"v":0.1,"z":2.4},{"x":0.1,"v":0.1,"z":1.7},{"x":0.2,"v":0.1,"z":0.8},{"x":0.3,"v":0.1,"z":0.3},{"x":0.4,"v":0.1,"z":0.2},{"x":0.5,"v":0.1,"z":0.1},
{"x":-0.6,"v":0.12,"z":0.2},{"x":-0.5,"v":0.12,"z":0.4},{"x":-0.4,"v":0.12,"z":0.7},{"x":-0.3,"v":0.12,"z":1.1},{"x":-0.2,"v":0.12,"z":1.5},{"x":-0.1,"v":0.12,"z":1.7},{"x":0,"v":0.12,"z":1.6},{"x":0.1,"v":0.12,"z":1.1},{"x":0.2,"v":0.12,"z":0.5},{"x":0.3,"v":0.12,"z":0.2},{"x":0.4,"v":0.12,"z":0.1},{"x":0.5,"v":0.12,"z":0.1},
{"x":-0.6,"v":0.14,"z":0.2},{"x":-0.5,"v":0.14,"z":0.3},{"x":-0.4,"v":0.14,"z":0.5},{"x":-0.3,"v":0.14,"z":0.7},{"x":-0.2,"v":0.14,"z":1.0},{"x":-0.1,"v":0.14,"z":1.1},{"x":0,"v":0.14,"z":1.0},{"x":0.1,"v":0.14,"z":0.7},{"x":0.2,"v":0.14,"z":0.3},{"x":0.3,"v":0.14,"z":0.1},{"x":0.4,"v":0.14,"z":0.1},{"x":0.5,"v":0.14,"z":0.0},
{"x":-0.6,"v":0.16,"z":0.1},{"x":-0.5,"v":0.16,"z":0.2},{"x":-0.4,"v":0.16,"z":0.3},{"x":-0.3,"v":0.16,"z":0.5},{"x":-0.2,"v":0.16,"z":0.7},{"x":-0.1,"v":0.16,"z":0.7},{"x":0,"v":0.16,"z":0.7},{"x":0.1,"v":0.16,"z":0.5},{"x":0.2,"v":0.16,"z":0.2},{"x":0.3,"v":0.16,"z":0.1},{"x":0.4,"v":0.16,"z":0.0},{"x":0.5,"v":0.16,"z":0.0},
{"x":-0.6,"v":0.18,"z":0.1},{"x":-0.5,"v":0.18,"z":0.1},{"x":-0.4,"v":0.18,"z":0.2},{"x":-0.3,"v":0.18,"z":0.3},{"x":-0.2,"v":0.18,"z":0.4},{"x":-0.1,"v":0.18,"z":0.5},{"x":0,"v":0.18,"z":0.5},{"x":0.1,"v":0.18,"z":0.3},{"x":0.2,"v":0.18,"z":0.1},{"x":0.3,"v":0.18,"z":0.1},{"x":0.4,"v":0.18,"z":0.0},{"x":0.5,"v":0.18,"z":0.0}
]
},
"hconcat":[
{
 "title":{"text":"Leverage Effect Included"},
 "width":475,"height":392,
 "layer":[
  {"data":{"name":"i1"},
   "mark":{"type":"rect","binSpacing":0,"strokeWidth":1},
   "encoding":{
    "x":{"field":"x","type":"quantitative","bin":{"binned":true,"step":0.05},"scale":{"domain":[-0.6,0.6],"nice":false,"zero":false},
      "axis":{"values":[-0.6,-0.2,0.2,0.6],"labelExpr":"datum.value < 0 ? '-' + format(-datum.value, '.1f') : format(datum.value, '.1f')","title":"x","labelFlush":true,"labelFlushOffset":9,"labelPadding":6,"titlePadding":6}},
    "y":{"field":"v","type":"quantitative","bin":{"binned":true,"step":0.005},"scale":{"domain":[0,0.2],"reverse":true,"nice":false,"zero":false},
      "axis":{"values":[0,0.04,0.08,0.12,0.16,0.2],"labelExpr":"datum.value === 0 ? '0.0' : format(datum.value, '.2~f')","title":"v","titleAngle":0,"titleAlign":"right","titleBaseline":"alphabetic","titleY":194,"titlePadding":2,"labelPadding":9,"labelFlush":true,"labelFlushOffset":4}},
    "color":{"field":"z","type":"quantitative","scale":{"domain":[0,4.91,14.74,24.56,34.39,39.3],"range":["#00008f","#0000ff","#00ffff","#ffff00","#ff0000","#800000"],"interpolate":"rgb","clamp":true},"legend":{"type":"gradient","values":[0,10,20,30],"title":null}},
    "stroke":{"field":"z","type":"quantitative","scale":{"domain":[0,4.91,14.74,24.56,34.39,39.31],"range":["#00008f","#0000ff","#00ffff","#ffff00","#ff0000","#800000"],"interpolate":"rgb","clamp":true},"legend":null}
   }},
  {"data":{"name":"i2"},
   "mark":{"type":"rect","binSpacing":0,"strokeWidth":1},
   "encoding":{
    "x":{"field":"x","type":"quantitative","bin":{"binned":true,"step":0.1},"scale":{"domain":[-0.6,0.6],"nice":false,"zero":false},
      "axis":{"values":[-0.6,-0.2,0.2,0.6],"labelExpr":"datum.value < 0 ? '-' + format(-datum.value, '.1f') : format(datum.value, '.1f')","title":"x","labelFlush":true,"labelFlushOffset":9,"labelPadding":6,"titlePadding":6}},
    "y":{"field":"v","type":"quantitative","bin":{"binned":true,"step":0.02},"scale":{"domain":[0,0.2],"reverse":true,"nice":false,"zero":false},
      "axis":{"values":[0,0.04,0.08,0.12,0.16,0.2],"labelExpr":"datum.value === 0 ? '0.0' : format(datum.value, '.2~f')","title":"v","titleAngle":0,"titleAlign":"right","titleBaseline":"alphabetic","titleY":194,"titlePadding":2,"labelPadding":9,"labelFlush":true,"labelFlushOffset":4}},
    "color":{"field":"z","type":"quantitative","scale":{"domain":[0,4.91,14.74,24.56,34.39,39.3],"range":["#00008f","#0000ff","#00ffff","#ffff00","#ff0000","#800000"],"interpolate":"rgb","clamp":true},"legend":{"type":"gradient","values":[0,10,20,30],"title":null}},
    "stroke":{"field":"z","type":"quantitative","scale":{"domain":[0,4.91,14.74,24.56,34.39,39.31],"range":["#00008f","#0000ff","#00ffff","#ffff00","#ff0000","#800000"],"interpolate":"rgb","clamp":true},"legend":null}
   }}
 ]
},
{
 "title":{"text":"Leverage Effect Excluded"},
 "width":475,"height":392,
 "layer":[
  {"data":{"name":"e1"},
   "mark":{"type":"rect","binSpacing":0,"strokeWidth":1},
   "encoding":{
    "x":{"field":"x","type":"quantitative","bin":{"binned":true,"step":0.05},"scale":{"domain":[-0.6,0.6],"nice":false,"zero":false},
      "axis":{"values":[-0.6,-0.2,0.2,0.6],"labelExpr":"datum.value < 0 ? '-' + format(-datum.value, '.1f') : format(datum.value, '.1f')","title":"x","labelFlush":true,"labelFlushOffset":9,"labelPadding":6,"titlePadding":6}},
    "y":{"field":"v","type":"quantitative","bin":{"binned":true,"step":0.005},"scale":{"domain":[0,0.2],"reverse":true,"nice":false,"zero":false},
      "axis":{"values":[0,0.04,0.08,0.12,0.16,0.2],"labelExpr":"datum.value === 0 ? '0.0' : format(datum.value, '.2~f')","title":"v","titleAngle":0,"titleAlign":"right","titleBaseline":"alphabetic","titleY":194,"titlePadding":2,"labelPadding":9,"labelFlush":true,"labelFlushOffset":4}},
    "color":{"field":"z","type":"quantitative","scale":{"domain":[0,4.3,12.9,21.5,30.1,34.4],"range":["#00008f","#0000ff","#00ffff","#ffff00","#ff0000","#800000"],"interpolate":"rgb","clamp":true},"legend":{"type":"gradient","values":[0,10,20,30],"title":null}},
    "stroke":{"field":"z","type":"quantitative","scale":{"domain":[0,4.3,12.9,21.5,30.1,34.41],"range":["#00008f","#0000ff","#00ffff","#ffff00","#ff0000","#800000"],"interpolate":"rgb","clamp":true},"legend":null}
   }},
  {"data":{"name":"e2"},
   "mark":{"type":"rect","binSpacing":0,"strokeWidth":1},
   "encoding":{
    "x":{"field":"x","type":"quantitative","bin":{"binned":true,"step":0.1},"scale":{"domain":[-0.6,0.6],"nice":false,"zero":false},
      "axis":{"values":[-0.6,-0.2,0.2,0.6],"labelExpr":"datum.value < 0 ? '-' + format(-datum.value, '.1f') : format(datum.value, '.1f')","title":"x","labelFlush":true,"labelFlushOffset":9,"labelPadding":6,"titlePadding":6}},
    "y":{"field":"v","type":"quantitative","bin":{"binned":true,"step":0.02},"scale":{"domain":[0,0.2],"reverse":true,"nice":false,"zero":false},
      "axis":{"values":[0,0.04,0.08,0.12,0.16,0.2],"labelExpr":"datum.value === 0 ? '0.0' : format(datum.value, '.2~f')","title":"v","titleAngle":0,"titleAlign":"right","titleBaseline":"alphabetic","titleY":194,"titlePadding":2,"labelPadding":9,"labelFlush":true,"labelFlushOffset":4}},
    "color":{"field":"z","type":"quantitative","scale":{"domain":[0,4.3,12.9,21.5,30.1,34.4],"range":["#00008f","#0000ff","#00ffff","#ffff00","#ff0000","#800000"],"interpolate":"rgb","clamp":true},"legend":{"type":"gradient","values":[0,10,20,30],"title":null}},
    "stroke":{"field":"z","type":"quantitative","scale":{"domain":[0,4.3,12.9,21.5,30.1,34.41],"range":["#00008f","#0000ff","#00ffff","#ffff00","#ff0000","#800000"],"interpolate":"rgb","clamp":true},"legend":null}
   }}
 ]
}
]
}
